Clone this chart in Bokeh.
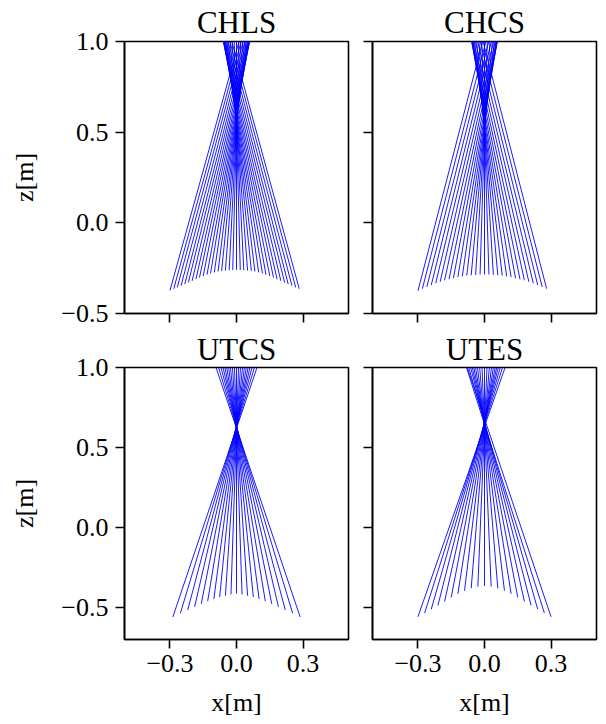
import numpy as np
from bokeh.plotting import figure
from bokeh.models import Range1d, CustomJSTickFormatter, ColumnDataSource
from bokeh.layouts import row, column
from bokeh.embed import file_html
from bokeh.resources import INLINE

# ---------------- data ----------------
titles = ["CHLS", "CHCS", "UTCS", "UTES"]
x_label = "x[m]"
z_label = "z[m]"
x_ticks = [-0.3, 0.0, 0.3]
z_ticks = [-0.5, 0.0, 0.5, 1.0]
x_lim = [-0.505, 0.505]
z_lim_top = [-0.5, 1.0]
z_lim_bottom = [-0.7, 1.0]

# ray start points (x0, z0) and height where each ray crosses x = 0 (zc)
chls_x0 = [-0.300, -0.283, -0.267, -0.250, -0.233, -0.217, -0.200, -0.183, -0.167,
           -0.150, -0.133, -0.117, -0.100, -0.083, -0.067, -0.050, -0.033, -0.017,
           0.000, 0.017, 0.033, 0.050, 0.067, 0.083, 0.100, 0.117, 0.133, 0.150,
           0.167, 0.183, 0.200, 0.217, 0.233, 0.250, 0.267, 0.283]
chls_z0 = [-0.373, -0.364, -0.356, -0.347, -0.338, -0.329, -0.320, -0.311, -0.302,
           -0.293, -0.286, -0.279, -0.273, -0.268, -0.265, -0.263, -0.261, -0.260,
           -0.259, -0.260, -0.261, -0.263, -0.265, -0.268, -0.273, -0.279, -0.286,
           -0.293, -0.302, -0.311, -0.320, -0.329, -0.338, -0.347, -0.356, -0.364]
chls_zc = [0.950, 0.905, 0.863, 0.822, 0.784, 0.749, 0.717, 0.687, 0.660,
           0.635, 0.613, 0.594, 0.577, 0.562, 0.551, 0.542, 0.535, 0.531,
           0.530, 0.531, 0.535, 0.542, 0.551, 0.562, 0.577, 0.594, 0.613,
           0.635, 0.660, 0.687, 0.717, 0.749, 0.784, 0.822, 0.863, 0.905]

chcs_x0 = [-0.30, -0.28, -0.26, -0.24, -0.22, -0.20, -0.18, -0.16, -0.14, -0.12,
           -0.10, -0.08, -0.06, -0.04, -0.02, 0.00, 0.02, 0.04, 0.06, 0.08,
           0.10, 0.12, 0.14, 0.16, 0.18, 0.20, 0.22, 0.24, 0.26, 0.28]
chcs_z0 = [-0.375, -0.363, -0.353, -0.343, -0.333, -0.325, -0.317, -0.311, -0.305, -0.299,
           -0.295, -0.291, -0.289, -0.287, -0.285, -0.285, -0.285, -0.287, -0.289, -0.291,
           -0.295, -0.299, -0.305, -0.311, -0.317, -0.325, -0.333, -0.343, -0.353, -0.363]
chcs_zc = [1.040, 0.970, 0.906, 0.846, 0.790, 0.740, 0.694, 0.654, 0.618, 0.586,
           0.560, 0.538, 0.522, 0.510, 0.502, 0.500, 0.502, 0.510, 0.522, 0.538,
           0.560, 0.586, 0.618, 0.654, 0.694, 0.740, 0.790, 0.846, 0.906, 0.970]

utcs_x0 = [-0.287, -0.253, -0.220, -0.189, -0.159, -0.130, -0.102, -0.076, -0.050, -0.025,
           0.000, 0.025, 0.050, 0.076, 0.102, 0.130, 0.159, 0.189, 0.220, 0.253, 0.287]
utcs_z0 = [-0.559, -0.536, -0.516, -0.496, -0.477, -0.461, -0.446, -0.435, -0.426, -0.418,
           -0.413, -0.418, -0.426, -0.435, -0.446, -0.461, -0.477, -0.496, -0.516, -0.536, -0.559]
utcs_zc = [0.620, 0.628, 0.634, 0.636, 0.634, 0.630, 0.626, 0.622, 0.620, 0.619,
           0.619, 0.619, 0.620, 0.622, 0.626, 0.630, 0.634, 0.636, 0.634, 0.628, 0.620]

utes_x0 = [-0.30, -0.27, -0.24, -0.21, -0.18, -0.15, -0.12, -0.09, -0.06, -0.03,
           0.00, 0.03, 0.06, 0.09, 0.12, 0.15, 0.18, 0.21, 0.24, 0.27, 0.30]
utes_z0 = [-0.558, -0.535, -0.511, -0.487, -0.462, -0.437, -0.414, -0.395, -0.380, -0.369,
           -0.365, -0.369, -0.380, -0.395, -0.414, -0.437, -0.462, -0.487, -0.511, -0.535, -0.558]
utes_zc = [0.632, 0.645, 0.655, 0.660, 0.658, 0.652, 0.645, 0.638, 0.632, 0.628,
           0.627, 0.628, 0.632, 0.638, 0.645, 0.652, 0.658, 0.660, 0.655, 0.645, 0.680]

# ---------------- styling ----------------
FONT = "Liberation Serif"
RAY = "#0000ff"
FRAME_W = 224
FRAME_H = 272

tick_fmt = CustomJSTickFormatter(code="return tick.toFixed(1).replace('-', '\u2212');")
no_fmt = CustomJSTickFormatter(code="return '';")


def ray_source(x0, z0, zc, ztop):
    x0 = np.asarray(x0, float)
    z0 = np.asarray(z0, float)
    zc = np.asarray(zc, float)
    # straight ray through (x0, z0) and (0, zc), drawn up to the top of the axes
    x1 = x0 * (zc - ztop) / (zc - z0)
    return ColumnDataSource(dict(x0=x0, z0=z0, x1=x1, z1=np.full_like(x0, ztop)))


def panel(title, x0, z0, zc, zlim, left, bottom, bl, br, bt, bb, title_standoff):
    w = FRAME_W + bl + br
    h = FRAME_H + bt + bb
    p = figure(width=w, height=h, x_range=Range1d(*x_lim), y_range=Range1d(*zlim),
               output_backend="svg", toolbar_location=None,
               min_border_left=bl, min_border_right=br,
               min_border_top=bt, min_border_bottom=bb)
    p.grid.visible = False
    p.background_fill_color = "white"
    p.border_fill_color = "white"
    p.outline_line_color = "black"
    p.outline_line_width = 1.6

    p.title.text = title
    p.title.align = "center"
    p.title.text_font = FONT
    p.title.text_font_size = "31px"
    p.title.text_font_style = "normal"
    p.title.text_color = "black"
    p.title.standoff = title_standoff

    p.segment(x0="x0", y0="z0", x1="x1", y1="z1", source=ray_source(x0, z0, zc, zlim[1]),
              line_color=RAY, line_width=0.9)

    for ax, ticks, show in ((p.xaxis[0], x_ticks, bottom), (p.yaxis[0], z_ticks, left)):
        ax.ticker = ticks
        ax.axis_line_color = "black"
        ax.axis_line_width = 1.6
        ax.major_tick_line_color = "black"
        ax.major_tick_line_width = 1.6
        ax.major_tick_out = 9
        ax.major_tick_in = 0
        ax.minor_tick_line_color = None
        ax.major_label_text_font = FONT
        ax.major_label_text_font_size = "26px"
        ax.major_label_text_color = "black"
        ax.axis_label_text_font = FONT
        ax.axis_label_text_font_size = "26px"
        ax.axis_label_text_font_style = "normal"
        ax.axis_label_text_color = "black"
        if show:
            ax.formatter = tick_fmt
        else:
            ax.formatter = no_fmt
            ax.major_label_standoff = 0
    if bottom:
        p.xaxis.major_label_standoff = 6
        p.xaxis.axis_label = x_label
        p.xaxis.axis_label_standoff = 13
    if left:
        p.yaxis.major_label_standoff = 7
        p.yaxis.axis_label = z_label
        p.yaxis.axis_label_standoff = 19
    return p


p_tl = panel(titles[0], chls_x0, chls_z0, chls_zc, z_lim_top, True, False, 124, 12, 41, 15, 4)
p_tr = panel(titles[1], chcs_x0, chcs_z0, chcs_zc, z_lim_top, False, False, 12, 9, 41, 15, 4)
p_bl = panel(titles[2], utcs_x0, utcs_z0, utcs_zc, z_lim_bottom, True, True, 124, 12, 39, 84, 2)
p_br = panel(titles[3], utes_x0, utes_z0, utes_zc, z_lim_bottom, False, True, 12, 9, 39, 84, 2)

p = column(row(p_tl, p_tr), row(p_bl, p_br))

open("out.html", "w").write(file_html(p, INLINE))
